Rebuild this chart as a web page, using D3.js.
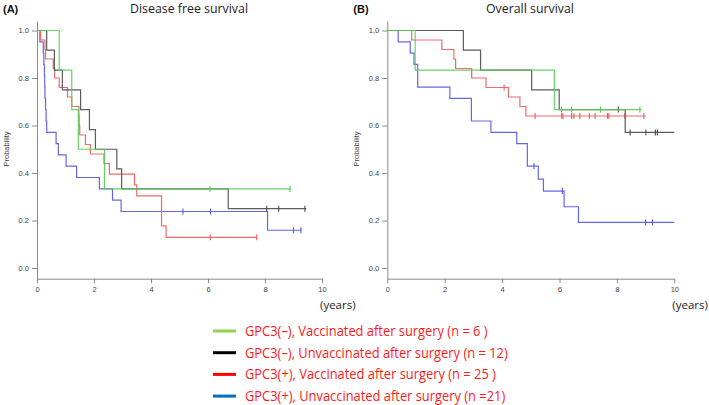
<!DOCTYPE html>
<html>
<head>
<meta charset="utf-8">
<script src="https://cdn.jsdelivr.net/npm/d3@7"></script>
<style>
  body { margin: 0; background: #fff; }
  svg { display: block; }
</style>
</head>
<body>
<svg id="chart"></svg>
<script>
// ---- data: [time in years, survival probability] ----
const groups = ["GPC3(–), Vaccinated after surgery (n = 6 )",
                "GPC3(–), Unvaccinated after surgery (n = 12)",
                "GPC3(+), Vaccinated after surgery (n = 25 )",
                "GPC3(+), Unvaccinated after surgery (n =21)"];

const dfsGreen = [[0,1],[0.78,0.833],[1.22,0.667],[1.45,0.5],[2.37,0.333]];
const dfsGreenCensor = [6.07, 8.88];
const dfsGreenEnd = 8.88;
const dfsBlack = [[0,1],[0.34,0.917],[0.61,0.833],[0.89,0.75],[1.53,0.667],[1.84,0.583],
                  [2.05,0.5],[2.8,0.417],[2.97,0.333],[6.71,0.25]];
const dfsBlackCensor = [8.06, 8.48, 9.40];
const dfsBlackEnd = 9.45;
const dfsRed = [[0,1],[0.13,0.96],[0.28,0.92],[0.3,0.88],[0.57,0.84],[0.62,0.8],[0.78,0.76],
                [1.07,0.72],[1.22,0.68],[1.47,0.64],[1.48,0.6],[1.5,0.56],[1.7,0.52],[1.87,0.48],
                [2.35,0.44],[2.54,0.395],[3.42,0.35],[3.5,0.304],[4.37,0.177],[4.53,0.129]];
const dfsRedCensor = [6.08, 7.71];
const dfsRedEnd = 7.71;
const dfsBlue = [[0,1],[0.1,0.952],[0.22,0.905],[0.24,0.857],[0.26,0.81],[0.27,0.762],
                 [0.28,0.714],[0.3,0.667],[0.32,0.619],[0.34,0.571],[0.67,0.524],[0.75,0.476],
                 [1.02,0.429],[1.39,0.381],[2.19,0.333],[2.65,0.286],[2.95,0.238],[8.09,0.159]];
const dfsBlueCensor = [5.12, 6.09, 9.0, 9.26];
const dfsBlueEnd = 9.28;

const osGreen = [[0,1],[0.97,0.833],[5.82,0.667]];
const osGreenCensor = [6.07, 6.42, 7.43, 8.8];
const osGreenEnd = 8.86;
const osBlack = [[0,1],[2.65,0.917],[3.25,0.833],[5.03,0.75],[5.99,0.667],[8.29,0.571]];
const osBlackCensor = [8.05, 8.46, 9.01, 9.34, 9.41];
const osBlackEnd = 10.0;
const osRed = [[0,1],[0.85,0.96],[1.9,0.92],[2.32,0.88],[2.38,0.84],[2.94,0.8],[3.44,0.76],
               [4.22,0.72],[4.62,0.68],[4.83,0.64]];
const osRedCensor = [4.07, 5.15, 6.08, 6.12, 6.42, 6.5, 6.71, 7.04, 7.24, 7.67, 7.72, 8.28, 8.94];
const osRedEnd = 9.0;
const osBlue = [[0,1],[0.38,0.952],[0.8,0.905],[0.93,0.857],[1.06,0.762],[2.18,0.714],
                [2.93,0.619],[3.61,0.571],[4.51,0.524],[4.88,0.429],[5.26,0.374],[5.44,0.324],
                [6.16,0.258],[6.66,0.192]];
const osBlueCensor = [5.11, 6.1, 9.0, 9.24];
const osBlueEnd = 10.0;

const xTicks = [0, 2, 4, 6, 8, 10];
const yTicks = [0, 0.2, 0.4, 0.6, 0.8, 1.0];

const curveColors = ["#55cc55", "#4a4a4a", "#f05a5a", "#5555e8"];
const swatchColors = ["#92d050", "#000000", "#ff0000", "#0070c0"];

const svg = d3.select("#chart")
  .attr("width", 709)
  .attr("height", 405);

// value of a step curve at time t
function survAt(steps, t) {
  let s = 1;
  steps.forEach(d => { if (d[0] <= t) s = d[1]; });
  return s;
}

function drawPanel(left, right, title, letter, titleX, curves) {
  const x = d3.scaleLinear().domain([0, 10]).range([left, right]);
  const y = d3.scaleLinear().domain([-0.045, 1.04]).range([278.7, 21]);

  svg.append("g")
    .attr("transform", "translate(0,278.7)")
    .call(d3.axisBottom(x).tickValues(xTicks).tickFormat(d3.format("d")).tickSize(4.5).tickSizeOuter(0))
    .call(g => g.selectAll("path, line").attr("stroke", "#8a8a8a"))
    .call(g => g.selectAll("text").attr("fill", "#444").style("font", "7.5px 'Liberation Sans', Arial"));

  svg.append("g")
    .attr("transform", `translate(${left},0)`)
    .call(d3.axisLeft(y).tickValues(yTicks).tickFormat(d3.format(".1f")).tickSize(5).tickSizeOuter(0))
    .call(g => g.selectAll("path, line").attr("stroke", "#8a8a8a"))
    .call(g => g.selectAll("text").attr("fill", "#444").style("font", "7.5px 'Liberation Sans', Arial"));

  svg.append("text")
    .attr("transform", `translate(${left - 31},149) rotate(-90)`)
    .attr("text-anchor", "middle")
    .attr("dy", "0.35em")
    .style("font", "7.5px 'Liberation Sans', Arial")
    .attr("fill", "#444")
    .text("Probability");

  svg.append("text")
    .attr("x", right - 2)
    .attr("y", 309)
    .style("font", "11.5px 'Open Sans'")
    .attr("fill", "#222")
    .text("(years)");

  svg.append("text")
    .attr("x", titleX)
    .attr("y", 13)
    .attr("text-anchor", "middle")
    .style("font", "13px 'Open Sans'")
    .attr("fill", "#222")
    .text(title)
    .attr("textLength", function() { return this.getComputedTextLength() * 0.95; })
    .attr("lengthAdjust", "spacingAndGlyphs");

  svg.append("text")
    .attr("x", left - 34)
    .attr("y", 13)
    .style("font", "bold 11px 'Liberation Sans', Arial")
    .attr("fill", "#111")
    .text(letter);

  const line = d3.line()
    .x(d => x(d[0]))
    .y(d => y(d[1]))
    .curve(d3.curveStepAfter);

  curves.forEach(c => {
    const pts = c.steps.concat([[c.end, c.steps[c.steps.length - 1][1]]]);
    svg.append("path")
      .datum(pts)
      .attr("fill", "none")
      .attr("stroke", c.color)
      .attr("stroke-width", 1.2)
      .attr("stroke-opacity", 0.9)
      .attr("d", line);

    svg.selectAll(null)
      .data(c.censor)
      .enter()
      .append("line")
      .attr("x1", d => x(d))
      .attr("x2", d => x(d))
      .attr("y1", d => y(survAt(c.steps, d)) - 3)
      .attr("y2", d => y(survAt(c.steps, d)) + 3)
      .attr("stroke", c.color)
      .attr("stroke-width", 1.1);
  });
}

drawPanel(37, 322, "Disease free survival", "(A)", 189, [
  { steps: dfsBlue, censor: dfsBlueCensor, end: dfsBlueEnd, color: curveColors[3] },
  { steps: dfsRed, censor: dfsRedCensor, end: dfsRedEnd, color: curveColors[2] },
  { steps: dfsBlack, censor: dfsBlackCensor, end: dfsBlackEnd, color: curveColors[1] },
  { steps: dfsGreen, censor: dfsGreenCensor, end: dfsGreenEnd, color: curveColors[0] }
]);

drawPanel(387.3, 674.3, "Overall survival", "(B)", 530, [
  { steps: osBlue, censor: osBlueCensor, end: osBlueEnd, color: curveColors[3] },
  { steps: osRed, censor: osRedCensor, end: osRedEnd, color: curveColors[2] },
  { steps: osBlack, censor: osBlackCensor, end: osBlackEnd, color: curveColors[1] },
  { steps: osGreen, censor: osGreenCensor, end: osGreenEnd, color: curveColors[0] }
]);

// Legend
const legend = svg.selectAll(".legend")
  .data(groups)
  .enter()
  .append("g")
  .attr("class", "legend")
  .attr("transform", (d, i) => `translate(213,${331 + i * 21.7})`);

legend.append("line")
  .attr("x1", 0)
  .attr("x2", 23)
  .attr("stroke", (d, i) => swatchColors[i])
  .attr("stroke-width", 3);

legend.append("text")
  .attr("x", 32)
  .attr("dy", "0.35em")
  .style("font", "14px 'Open Sans'")
  .attr("fill", "#ff1a1a")
  .text(d => d)
  .attr("textLength", function() { return this.getComputedTextLength() * 0.92; })
  .attr("lengthAdjust", "spacingAndGlyphs");
</script>
</body>
</html>
